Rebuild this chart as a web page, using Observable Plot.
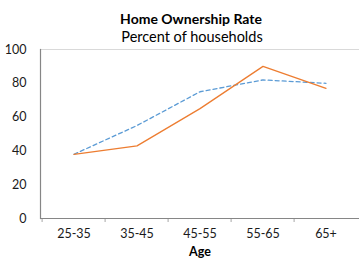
<!DOCTYPE html>
<html>
<head>
<meta charset="utf-8">
<script src="https://cdn.jsdelivr.net/npm/d3@7"></script>
<script src="https://cdn.jsdelivr.net/npm/@observablehq/plot@0.6"></script>
<style>
  html, body { margin: 0; padding: 0; background: #fff; }
  svg { display: block; }
</style>
</head>
<body>
<div id="chart"></div>
<script>
const ages = ["25-35", "35-45", "45-55", "55-65", "65+"];
const seriesSolid = [38, 43, 65, 90, 77];
const seriesDashed = [38, 55, 75, 82, 80];
const yTicks = [0, 20, 40, 60, 80, 100];
const titleText = "Home Ownership Rate";
const subtitleText = "Percent of households";
const xLabel = "Age";

const solidData = ages.map((a, i) => ({age: a, value: seriesSolid[i]}));
const dashedData = ages.map((a, i) => ({age: a, value: seriesDashed[i]}));

const W = 359, H = 258, mL = 40, mR = 0, mT = 49, mB = 40;
const bw = (W - mL - mR) / ages.length;
const font = "Lato, 'Open Sans', sans-serif";

const chart = Plot.plot({
  width: W,
  height: H,
  marginLeft: mL,
  marginRight: mR,
  marginTop: mT,
  marginBottom: mB,
  style: {fontFamily: font, fontSize: "12px", color: "#1a1a1a", background: "#fff", overflow: "visible"},
  x: {type: "band", domain: ages, padding: 0, label: null},
  y: {domain: [0, 100], label: null},
  marks: [
    Plot.ruleY([100], {stroke: "#d9d9d9", strokeWidth: 1}),
    Plot.axisY({ticks: yTicks, tickSize: 0, tickPadding: 14, fontSize: 12.5, label: null}),
    Plot.axisX({tickSize: 0, tickPadding: 11, fontSize: 12.5, label: null}),
    Plot.axisX({tickSize: 4, text: null, dx: -bw / 2, stroke: "#a6a6a6", label: null}),
    Plot.ruleY([0], {stroke: "#868686", strokeWidth: 1.2}),
    Plot.frame({anchor: "left", stroke: "#868686", strokeWidth: 1.2}),
    Plot.line(dashedData, {x: "age", y: "value", stroke: "#5B9BD5", strokeWidth: 1.3, strokeDasharray: "4,3"}),
    Plot.line(solidData, {x: "age", y: "value", stroke: "#ED7D31", strokeWidth: 1.3}),
    Plot.text([titleText], {frameAnchor: "top", dy: -35, dx: -9, fontWeight: "bold", fontSize: 14, fill: "#000"}),
    Plot.text([subtitleText], {frameAnchor: "top", dy: -18, dx: -8, fontSize: 14.5, fill: "#000"}),
    Plot.text([xLabel], {frameAnchor: "bottom", dy: 37, fontWeight: "bold", fontSize: 12.5, fill: "#000"})
  ]
});
document.getElementById("chart").appendChild(chart);
</script>
</body>
</html>
